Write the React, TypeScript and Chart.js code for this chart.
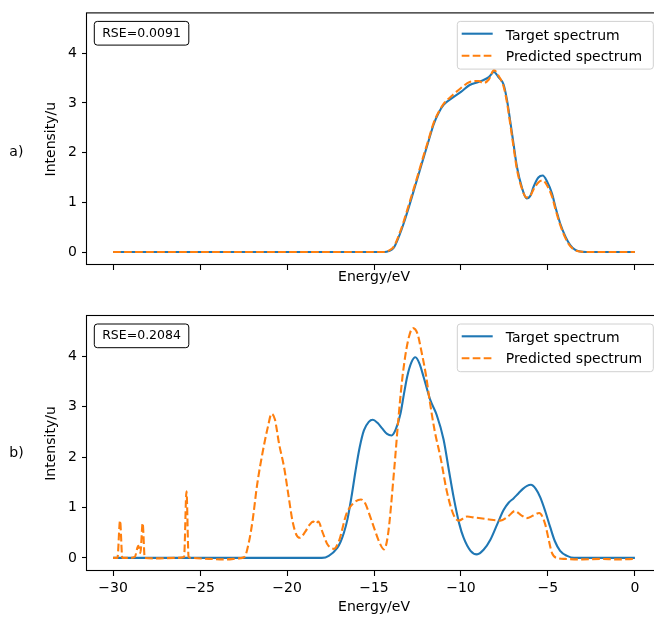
import React, { useEffect, useRef } from 'react';
import { Chart, registerables } from 'chart.js';

Chart.register(...registerables);

// ---------------- data ----------------
const xTickValues = [-30, -25, -20, -15, -10, -5, 0];
const yTickValues = [0, 1, 2, 3, 4];
const seriesNames = ['Target spectrum', 'Predicted spectrum'];
const panelTags = ['a)', 'b)'];
const rseTexts = ['RSE=0.0091', 'RSE=0.2084'];
const xAxisTitle = 'Energy/eV';
const yAxisTitle = 'Intensity/u';

// panel a) target
const targetEnergyA = [-30, -14.4, -14.15, -13.86, -13.57, -13.29, -13.0, -12.71, -12.42, -12.14, -11.85, -11.57, -11.28, -11.0, -10.5, -10.0, -9.5, -9.0, -8.7, -8.4, -8.1, -7.85, -7.55, -7.35, -7.17, -6.98, -6.78, -6.5, -6.23, -6.0, -5.83, -5.55, -5.3, -5.05, -4.77, -4.55, -4.3, -3.98, -3.72, -3.45, -3.15, -2.8, 0];
const targetIntensityA = [0, 0, 0.02, 0.09, 0.31, 0.58, 0.9, 1.24, 1.58, 1.91, 2.25, 2.57, 2.8, 2.96, 3.1, 3.22, 3.36, 3.42, 3.46, 3.52, 3.62, 3.52, 3.37, 3.05, 2.64, 2.18, 1.71, 1.3, 1.08, 1.14, 1.31, 1.5, 1.54, 1.42, 1.18, 0.88, 0.58, 0.3, 0.14, 0.05, 0.01, 0, 0];

// panel a) predicted
const predEnergyA = [-30, -14.4, -14.15, -13.86, -13.57, -13.29, -13.0, -12.71, -12.42, -12.14, -11.85, -11.57, -11.28, -11.0, -10.5, -10.0, -9.5, -9.0, -8.7, -8.4, -8.1, -7.85, -7.55, -7.35, -7.17, -6.98, -6.78, -6.5, -6.23, -6.0, -5.83, -5.55, -5.3, -5.05, -4.77, -4.55, -4.3, -3.98, -3.72, -3.45, -3.15, -2.8, 0];
const predIntensityA = [0, 0, 0.03, 0.11, 0.34, 0.62, 0.95, 1.28, 1.62, 1.95, 2.28, 2.6, 2.82, 2.98, 3.15, 3.3, 3.42, 3.44, 3.4, 3.47, 3.66, 3.55, 3.33, 3.0, 2.58, 2.12, 1.66, 1.28, 1.1, 1.14, 1.26, 1.4, 1.44, 1.34, 1.12, 0.84, 0.55, 0.27, 0.12, 0.04, 0.01, 0, 0];

// panel b) target
const targetEnergyB = [-30, -18.0, -17.6, -17.11, -16.92, -16.73, -16.53, -16.3, -16.06, -15.82, -15.58, -15.3, -15.07, -14.8, -14.53, -14.25, -13.99, -13.75, -13.48, -13.28, -13.09, -12.85, -12.62, -12.38, -12.14, -11.75, -11.4, -11.0, -10.7, -10.42, -10.1, -9.85, -9.45, -9.08, -8.7, -8.31, -7.9, -7.55, -7.25, -6.98, -6.7, -6.44, -6.2, -5.98, -5.7, -5.44, -5.15, -4.87, -4.6, -4.3, -3.9, -3.5, 0];
const targetIntensityB = [0, 0, 0.04, 0.2, 0.32, 0.5, 0.76, 1.2, 1.73, 2.2, 2.53, 2.7, 2.74, 2.68, 2.57, 2.46, 2.43, 2.55, 2.86, 3.25, 3.6, 3.88, 3.98, 3.85, 3.58, 3.12, 2.84, 2.35, 1.75, 1.2, 0.68, 0.4, 0.14, 0.07, 0.16, 0.36, 0.68, 0.95, 1.1, 1.18, 1.28, 1.37, 1.43, 1.45, 1.37, 1.2, 0.92, 0.61, 0.33, 0.14, 0.04, 0, 0];

// panel b) predicted
const predEnergyB = [-30, -29.75, -29.6, -29.47, -29.0, -28.75, -28.55, -28.43, -28.3, -28.18, -27.5, -26.5, -25.92, -25.78, -25.66, -25.5, -24.5, -23.5, -22.8, -22.44, -22.2, -21.98, -21.72, -21.4, -21.1, -20.89, -20.7, -20.45, -20.17, -19.9, -19.69, -19.45, -19.26, -18.95, -18.7, -18.5, -18.35, -18.2, -17.95, -17.66, -17.3, -17.0, -16.59, -16.2, -15.75, -15.5, -15.27, -14.95, -14.68, -14.43, -14.2, -13.84, -13.6, -13.36, -13.05, -12.76, -12.5, -12.28, -12.0, -11.8, -11.5, -11.18, -10.8, -10.42, -10.13, -9.65, -9.2, -8.5, -7.74, -7.3, -6.9, -6.55, -6.21, -5.85, -5.5, -5.16, -4.95, -4.77, -4.5, -4.0, -3.0, -2.0, -1.0, 0];
const predIntensityB = [0, 0, 0.74, 0, 0, 0.02, 0.24, 0.1, 0.69, 0, -0.01, 0, 0.02, 1.32, 0.02, 0, -0.02, -0.03, -0.01, 0.02, 0.3, 0.74, 1.45, 2.1, 2.6, 2.86, 2.75, 2.25, 1.8, 1.2, 0.74, 0.45, 0.4, 0.52, 0.66, 0.72, 0.68, 0.72, 0.5, 0.26, 0.18, 0.35, 0.87, 1.08, 1.16, 1.08, 0.87, 0.55, 0.3, 0.17, 0.45, 1.75, 2.75, 3.6, 4.3, 4.56, 4.45, 4.11, 3.6, 3.12, 2.5, 2.0, 1.3, 0.85, 0.74, 0.82, 0.8, 0.77, 0.74, 0.82, 0.93, 0.85, 0.79, 0.84, 0.89, 0.67, 0.35, 0.1, 0, -0.02, -0.03, -0.02, -0.03, -0.02];

// ---------------- styling / layout ----------------
const FONT = "'DejaVu Sans'";
const CANVAS_W = 680;
const AREA_LEFT = 87;
const AREA_RIGHT = 661;
const X_MIN = -31.5;
const X_MAX = 1.5;
const Y_MIN = -0.26;
const Y_MAX = 4.8;
const BLUE = '#1f77b4';
const ORANGE = '#ff7f0e';

type Panel = {
  targetE: number[];
  targetI: number[];
  predE: number[];
  predI: number[];
  tag: string;
  rse: string;
  showXLabels: boolean;
  canvasTop: number;
  canvasH: number;
  areaTop: number;
  areaBottom: number;
  xTitlePad: number;
  tagOffset: number;
};

const panels: Panel[] = [
  {
    targetE: targetEnergyA, targetI: targetIntensityA, predE: predEnergyA, predI: predIntensityA,
    tag: panelTags[0], rse: rseTexts[0], showXLabels: false,
    canvasTop: 0, canvasH: 300, areaTop: 11, areaBottom: 265, xTitlePad: 14.6, tagOffset: 142.2,
  },
  {
    targetE: targetEnergyB, targetI: targetIntensityB, predE: predEnergyB, predI: predIntensityB,
    tag: panelTags[1], rse: rseTexts[1], showXLabels: true,
    canvasTop: 300, canvasH: 317, areaTop: 16, areaBottom: 271, xTitlePad: 1.5, tagOffset: 140.5,
  },
];

function pairs(xs: number[], ys: number[]) {
  return xs.map((x, i) => ({ x, y: ys[i] }));
}

function roundRectPath(ctx: CanvasRenderingContext2D, x: number, y: number, w: number, h: number, r: number) {
  ctx.beginPath();
  ctx.moveTo(x + r, y);
  ctx.lineTo(x + w - r, y);
  ctx.arcTo(x + w, y, x + w, y + r, r);
  ctx.lineTo(x + w, y + h - r);
  ctx.arcTo(x + w, y + h, x + w - r, y + h, r);
  ctx.lineTo(x + r, y + h);
  ctx.arcTo(x, y + h, x, y + h - r, r);
  ctx.lineTo(x, y + r);
  ctx.arcTo(x, y, x + r, y, r);
  ctx.closePath();
}

const decorPlugin = {
  id: 'decor',
  afterDatasetsDraw(chart: any, _args: any, opts: any) {
    const { ctx, chartArea: a } = chart;
    ctx.save();
    ctx.setLineDash([]);
    // frame (spines)
    ctx.strokeStyle = '#000';
    ctx.lineWidth = 1.1;
    ctx.strokeRect(a.left - 0.5, a.top - 0.5, a.right - a.left, a.bottom - a.top);

    // RSE annotation box
    const bx = a.left + 7.3;
    const by = a.top + 8;
    const bw = 94.5;
    const bh = 23.7;
    roundRectPath(ctx, bx, by, bw, bh, 3);
    ctx.fillStyle = '#fff';
    ctx.fill();
    ctx.lineWidth = 1;
    ctx.strokeStyle = '#000';
    ctx.stroke();
    ctx.font = `12.5px ${FONT}`;
    ctx.fillStyle = '#000';
    ctx.textAlign = 'center';
    ctx.textBaseline = 'alphabetic';
    ctx.fillText(opts.rse, bx + bw / 2, a.top + 23.3);

    // legend
    const lr = a.right - 7.7;
    const lw = 196;
    const lt = a.top + 8;
    const lh = 47.7;
    roundRectPath(ctx, lr - lw, lt, lw, lh, 3);
    ctx.fillStyle = 'rgba(255,255,255,0.8)';
    ctx.fill();
    ctx.strokeStyle = '#d0d0d0';
    ctx.lineWidth = 1;
    ctx.stroke();

    const hx1 = lr - 191.6;
    const hx2 = lr - 160.6;
    const rows = [
      { y: a.top + 20.3, color: BLUE, dash: [] as number[], base: a.top + 26.3, text: seriesNames[0] },
      { y: a.top + 42.3, color: ORANGE, dash: [7.7, 3.3], base: a.top + 47.4, text: seriesNames[1] },
    ];
    for (const r of rows) {
      ctx.beginPath();
      ctx.setLineDash(r.dash);
      ctx.strokeStyle = r.color;
      ctx.lineWidth = 2.1;
      ctx.moveTo(hx1, r.y);
      ctx.lineTo(hx2, r.y);
      ctx.stroke();
      ctx.setLineDash([]);
      ctx.font = `14px ${FONT}`;
      ctx.fillStyle = '#000';
      ctx.textAlign = 'left';
      ctx.textBaseline = 'alphabetic';
      ctx.fillText(r.text, lr - 147.6, r.base);
    }
    ctx.restore();
  },
  afterDraw(chart: any, _args: any, opts: any) {
    const { ctx, chartArea: a } = chart;
    ctx.save();
    ctx.font = `14px ${FONT}`;
    ctx.fillStyle = '#000';
    ctx.textAlign = 'left';
    ctx.textBaseline = 'alphabetic';
    ctx.fillText(opts.tag, 9.3, a.top + opts.tagOffset);
    ctx.restore();
  },
};

function buildConfig(p: Panel): any {
  const font = { family: FONT, size: 14 };
  return {
    type: 'line',
    data: {
      datasets: [
        {
          label: seriesNames[0],
          data: pairs(p.targetE, p.targetI),
          borderColor: BLUE,
          backgroundColor: BLUE,
          borderWidth: 2.1,
          pointRadius: 0,
          fill: false,
          cubicInterpolationMode: 'monotone',
          order: 2,
        },
        {
          label: seriesNames[1],
          data: pairs(p.predE, p.predI),
          borderColor: ORANGE,
          backgroundColor: ORANGE,
          borderWidth: 2.1,
          borderDash: [7.7, 3.3],
          pointRadius: 0,
          fill: false,
          cubicInterpolationMode: 'monotone',
          order: 1,
        },
      ],
    },
    options: {
      responsive: false,
      animation: false,
      events: [],
      layout: {
        padding: { left: 0, top: p.areaTop, right: CANVAS_W - AREA_RIGHT, bottom: 0 },
        autoPadding: false,
      },
      plugins: {
        legend: { display: false },
        tooltip: { enabled: false },
        decor: { rse: p.rse, tag: p.tag, tagOffset: p.tagOffset },
      },
      scales: {
        x: {
          type: 'linear',
          min: X_MIN,
          max: X_MAX,
          afterBuildTicks: (s: any) => {
            s.ticks = xTickValues.map((v) => ({ value: v }));
          },
          afterFit: (s: any) => {
            s.height = p.canvasH - p.areaBottom;
          },
          border: { display: false },
          grid: {
            display: true,
            drawOnChartArea: false,
            drawTicks: true,
            tickLength: 5,
            tickColor: '#000',
            tickWidth: 1.1,
            offset: false,
          },
          ticks: {
            display: p.showXLabels,
            color: '#000',
            font,
            padding: 4.4,
            maxRotation: 0,
            autoSkip: false,
            callback: (v: number) => (v < 0 ? '\u2212' + Math.abs(v) : String(v)),
          },
          title: {
            display: true,
            text: xAxisTitle,
            color: '#000',
            font,
            padding: { top: 0, bottom: p.xTitlePad },
          },
        },
        y: {
          type: 'linear',
          min: Y_MIN,
          max: Y_MAX,
          afterBuildTicks: (s: any) => {
            s.ticks = yTickValues.map((v) => ({ value: v }));
          },
          afterFit: (s: any) => {
            s.width = AREA_LEFT;
          },
          border: { display: false },
          grid: {
            display: true,
            drawOnChartArea: false,
            drawTicks: true,
            tickLength: 5,
            tickColor: '#000',
            tickWidth: 1.1,
          },
          ticks: {
            color: '#000',
            font,
            padding: 5,
            autoSkip: false,
            callback: (v: number) => String(v),
          },
          title: {
            display: true,
            text: yAxisTitle,
            color: '#000',
            font,
            padding: { top: 42.9, bottom: 0 },
          },
        },
      },
    },
    plugins: [decorPlugin],
  };
}

function PanelChart({ panel }: { panel: Panel }) {
  const ref = useRef<HTMLCanvasElement | null>(null);
  useEffect(() => {
    if (!ref.current) return;
    const chart = new Chart(ref.current, buildConfig(panel));
    return () => chart.destroy();
  }, [panel]);
  return (
    <canvas
      ref={ref}
      width={CANVAS_W}
      height={panel.canvasH}
      style={{ position: 'absolute', left: 0, top: panel.canvasTop, width: CANVAS_W, height: panel.canvasH }}
    />
  );
}

export default function App() {
  return (
    <div
      style={{
        position: 'absolute',
        left: 0,
        top: 0,
        width: 654,
        height: 617,
        overflow: 'hidden',
        background: '#fff',
      }}
    >
      {panels.map((p, i) => (
        <PanelChart key={i} panel={p} />
      ))}
    </div>
  );
}
